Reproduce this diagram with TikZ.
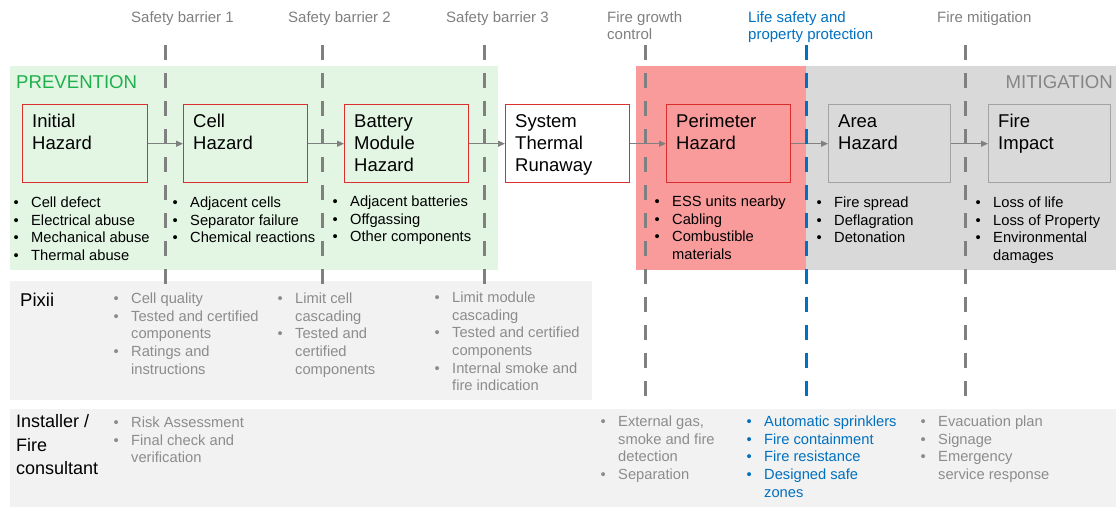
\documentclass[tikz,border=0pt]{standalone}
\usepackage{fontspec}
\setmainfont{Liberation Sans}
\usetikzlibrary{arrows.meta}
\definecolor{greenbg}{HTML}{E2F6E3}
\definecolor{greentx}{HTML}{1FB04C}
\definecolor{redbg}{HTML}{F99B9B}
\definecolor{redln}{HTML}{DC2E2E}
\definecolor{graybg}{HTML}{D9D9D9}
\definecolor{grayln}{HTML}{A3A3A3}
\definecolor{lightbg}{HTML}{F2F2F2}
\definecolor{dashgray}{HTML}{808080}
\definecolor{hdrgray}{HTML}{7F7F7F}
\definecolor{listgray}{HTML}{8C8C8C}
\definecolor{mitgray}{HTML}{858585}
\definecolor{blueln}{HTML}{0070C0}
\setlength\parindent{0pt}
\newlength\bulind
\setlength\bulind{17.5pt}
\newcommand\bl{\makebox[\bulind][l]{\textbullet}&}
\newenvironment{blt}{\begin{tabular}{@{}l@{}l@{}}}{\end{tabular}}
\tikzset{
  hbox/.style={draw=redln, line width=1.4pt, anchor=north west, minimum width=#1, minimum height=78pt, inner sep=0pt},
  gbox/.style={draw=grayln, line width=1.4pt, anchor=north west, minimum width=#1, minimum height=78pt, inner sep=0pt},
  htext/.style={anchor=north west, inner sep=0pt, text width=115pt, align=left, font=\fontsize{18.5}{22}\selectfont},
  blist/.style={anchor=north west, inner sep=0pt, font=\fontsize{14.7}{17.7}\selectfont},
  hdr/.style={anchor=north west, inner sep=0pt, align=left, font=\fontsize{15}{17}\selectfont, text=hdrgray},
  barline/.style={draw=dashgray, line width=3pt, dash pattern=on 15pt off 13pt},
  arr/.style={draw=dashgray, line width=1.2pt, -{Triangle[length=7pt,width=6pt]}},
  rowlabel/.style={anchor=north west, inner sep=0pt, align=left, font=\fontsize{18}{23.5}\selectfont}
}
\begin{document}
\begin{tikzpicture}[x=1pt,y=-1pt]
\useasboundingbox (0,0) rectangle (1116,509);
% backgrounds
\fill[greenbg] (10,66) rectangle (498,270);
\fill[redbg] (636,66) rectangle (806,270);
\fill[graybg] (806,66) rectangle (1116,270);
\fill[lightbg] (10,281) rectangle (592,400);
\fill[lightbg] (10,409) rectangle (1116,507);
% headers
\node[hdr] (h1) at (131,11) {Safety barrier 1};
\node[hdr] (h2) at (288,11) {Safety barrier 2};
\node[hdr] (h3) at (446,11) {Safety barrier 3};
\node[hdr] (h4) at (607,11) {Fire growth\\control};
\node[hdr, text=blueln] (h5) at (748,11) {Life safety and\\property protection};
\node[hdr] (h6) at (937,11) {Fire mitigation};
\node[anchor=base west, inner sep=0pt, font=\fontsize{18.6}{20}\selectfont, text=greentx] (prev) at (16,88.5) {PREVENTION};
\node[anchor=base east, inner sep=0pt, font=\fontsize{18.6}{20}\selectfont, text=mitgray] (mitig) at (1113,88.5) {MITIGATION};
% boxes
\node[hbox=125pt] (b1) at (22,104) {};
\node[hbox=124pt] (b2) at (183,104) {};
\node[hbox=124pt] (b3) at (344,104) {};
\node[hbox=124pt, fill=white] (b4) at (505,104) {};
\node[hbox=124pt] (b5) at (666,104) {};
\node[gbox=122pt] (b6) at (828,104) {};
\node[gbox=122pt] (b7) at (988,104) {};
\node[htext] (t1) at (32,114.3) {Initial\\Hazard};
\node[htext] (t2) at (193,114.3) {Cell\\Hazard};
\node[htext] (t3) at (354,114.3) {Battery\\Module\\Hazard};
\node[htext] (t4) at (515,114.3) {System\\Thermal\\Runaway};
\node[htext] (t5) at (676,114.3) {Perimeter\\Hazard};
\node[htext] (t6) at (838,114.3) {Area\\Hazard};
\node[htext] (t7) at (998,114.3) {Fire\\Impact};
% arrows
\draw[arr] (b1) -- (b2);
\draw[arr] (b2) -- (b3);
\draw[arr] (b3) -- (b4);
\draw[arr] (b4) -- (b5);
\draw[arr] (b5) -- (b6);
\draw[arr] (b6) -- (b7);
% barrier lines
\draw[barline] (165,45) -- (165,288);
\draw[barline] (322,45) -- (322,288);
\draw[barline] (484,45) -- (484,288);
\draw[barline] (645,45) -- (645,400);
\draw[barline, draw=blueln] (806,45) -- (806,400);
\draw[barline] (965,45) -- (965,400);
% hazard lists
\node[blist] (l1) at (13.5,194.8) {\begin{blt}\bl Cell defect\\ \bl Electrical abuse\\ \bl Mechanical abuse\\ \bl Thermal abuse\end{blt}};
\node[blist] (l2) at (172.5,194.8) {\begin{blt}\bl Adjacent cells\\ \bl Separator failure\\ \bl Chemical reactions\end{blt}};
\node[blist] (l3) at (332.5,193.8) {\begin{blt}\bl Adjacent batteries\\ \bl Offgassing\\ \bl Other components\end{blt}};
\node[blist] (l4) at (654.5,193.8) {\begin{blt}\bl ESS units nearby\\ \bl Cabling\\ \bl Combustible\\ & materials\end{blt}};
\node[blist] (l5) at (816.5,194.8) {\begin{blt}\bl Fire spread\\ \bl Deflagration\\ \bl Detonation\end{blt}};
\node[blist] (l6) at (975.5,194.8) {\begin{blt}\bl Loss of life\\ \bl Loss of Property\\ \bl Environmental\\ & damages\end{blt}};
% Pixii row
\node[anchor=base west, inner sep=0pt, font=\fontsize{18.5}{20}\selectfont] (pixii) at (20,306.5) {Pixii};
\node[blist, text=listgray] (p1) at (113.5,290.8) {\begin{blt}\bl Cell quality\\ \bl Tested and certified\\ & components\\ \bl Ratings and\\ & instructions\end{blt}};
\node[blist, text=listgray] (p2) at (277.5,290.8) {\begin{blt}\bl Limit cell\\ & cascading\\ \bl Tested and\\ & certified\\ & components\end{blt}};
\node[blist, text=listgray] (p3) at (434.5,289.8) {\begin{blt}\bl Limit module\\ & cascading\\ \bl Tested and certified\\ & components\\ \bl Internal smoke and\\ & fire indication\end{blt}};
% Installer row
\node[rowlabel] (inst) at (16,414.5) {Installer /\\Fire\\consultant};
\node[blist, text=listgray] (i1) at (113.5,414.8) {\begin{blt}\bl Risk Assessment\\ \bl Final check and\\ & verification\end{blt}};
\node[blist, text=listgray] (i2) at (600.5,413.8) {\begin{blt}\bl External gas,\\ & smoke and fire\\ & detection\\ \bl Separation\end{blt}};
\node[blist, text=blueln] (i3) at (746.5,413.8) {\begin{blt}\bl Automatic sprinklers\\ \bl Fire containment\\ \bl Fire resistance\\ \bl Designed safe\\ & zones\end{blt}};
\node[blist, text=listgray] (i4) at (920.5,413.8) {\begin{blt}\bl Evacuation plan\\ \bl Signage\\ \bl Emergency\\ & service response\end{blt}};
\end{tikzpicture}
\end{document}
